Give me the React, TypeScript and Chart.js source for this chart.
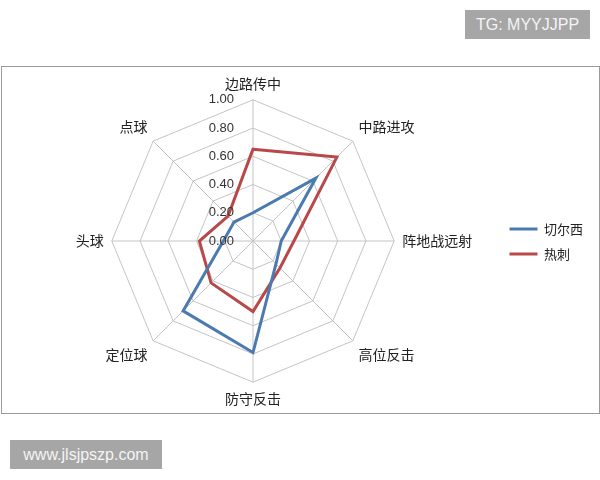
import { useEffect, useRef } from 'react'
import { Chart, registerables } from 'chart.js'

Chart.register(...registerables)

const categories = ['边路传中', '中路进攻', '阵地战远射', '高位反击', '防守反击', '定位球', '头球', '点球']
const seriesNames = ['切尔西', '热刺']
const chelseaValues = [0.2, 0.63, 0.2, 0.23, 0.79, 0.7, 0.21, 0.19]
const spursValues = [0.65, 0.84, 0.29, 0.27, 0.5, 0.42, 0.38, 0.25]
const tickValues = [0, 0.2, 0.4, 0.6, 0.8, 1]

const cjkFont = '"Noto Sans CJK SC", "Liberation Sans", sans-serif'

// draws the 0.00..1.00 labels just left of the vertical axis, like Excel does
const tickLabelPlugin = {
  id: 'tickLabels',
  afterDatasetsDraw(chart: Chart) {
    const scale: any = chart.scales.r
    if (!scale) return
    const ctx = chart.ctx
    ctx.save()
    ctx.font = '13px "Liberation Sans", Arial, sans-serif'
    ctx.fillStyle = '#333'
    ctx.textAlign = 'right'
    ctx.textBaseline = 'middle'
    tickValues.forEach((v) => {
      const y = scale.yCenter - scale.getDistanceFromCenterForValue(v)
      ctx.fillText(v.toFixed(2), scale.xCenter - 19, y)
    })
    ctx.restore()
  },
}

function RadarChart() {
  const chartRef = useRef<HTMLCanvasElement>(null)
  const chartInstance = useRef<Chart | null>(null)

  useEffect(() => {
    if (!chartRef.current) return
    if (chartInstance.current) chartInstance.current.destroy()
    const ctx = chartRef.current.getContext('2d')
    if (!ctx) return

    chartInstance.current = new Chart(ctx, {
      type: 'radar',
      data: {
        labels: categories,
        datasets: [
          {
            label: seriesNames[0],
            data: chelseaValues,
            borderColor: '#4a7ab0',
            backgroundColor: '#4a7ab0',
            borderWidth: 3,
            pointRadius: 0,
            fill: false,
          },
          {
            label: seriesNames[1],
            data: spursValues,
            borderColor: '#b8484a',
            backgroundColor: '#b8484a',
            borderWidth: 3,
            pointRadius: 0,
            fill: false,
          },
        ],
      },
      options: {
        responsive: true,
        maintainAspectRatio: false,
        animation: false,
        layout: { padding: { top: 8, bottom: 5, left: 8, right: 6 } },
        scales: {
          r: {
            min: 0,
            max: 1,
            ticks: { stepSize: 0.2, display: false },
            grid: { color: '#c4c4c4', lineWidth: 1 },
            angleLines: { color: '#c4c4c4', lineWidth: 1 },
            pointLabels: {
              font: { family: cjkFont, size: 14 },
              color: '#222',
              padding: 8,
            },
          },
        },
        plugins: {
          legend: {
            position: 'right',
            labels: {
              usePointStyle: true,
              pointStyle: 'line',
              pointStyleWidth: 28,
              font: { family: cjkFont, size: 13 },
              color: '#222',
              padding: 12,
            },
          },
          tooltip: { enabled: false },
        },
      },
      plugins: [tickLabelPlugin],
    })

    return () => {
      if (chartInstance.current) {
        chartInstance.current.destroy()
        chartInstance.current = null
      }
    }
  }, [])

  return (
    <div style={{ position: 'relative', width: '100%', height: '100%' }}>
      <canvas ref={chartRef} />
    </div>
  )
}

export default function App() {
  const tag = {
    position: 'absolute' as const,
    background: '#a6a6a6',
    color: '#f4f4f4',
    fontFamily: '"Liberation Sans", Arial, sans-serif',
    fontSize: 16,
    display: 'flex',
    alignItems: 'center',
    justifyContent: 'center',
  }
  return (
    <div style={{ position: 'fixed', left: 0, top: 0, width: 600, height: 480, background: '#fff' }}>
      <div style={{ ...tag, left: 465, top: 10, width: 125, height: 29 }}>TG: MYYJJPP</div>
      <div
        style={{
          position: 'absolute',
          left: 1,
          top: 66,
          width: 597,
          height: 346,
          border: '1px solid #9a9a9a',
        }}
      >
        <RadarChart />
      </div>
      <div style={{ ...tag, left: 10, top: 440, width: 152, height: 29 }}>www.jlsjpszp.com</div>
    </div>
  )
}
